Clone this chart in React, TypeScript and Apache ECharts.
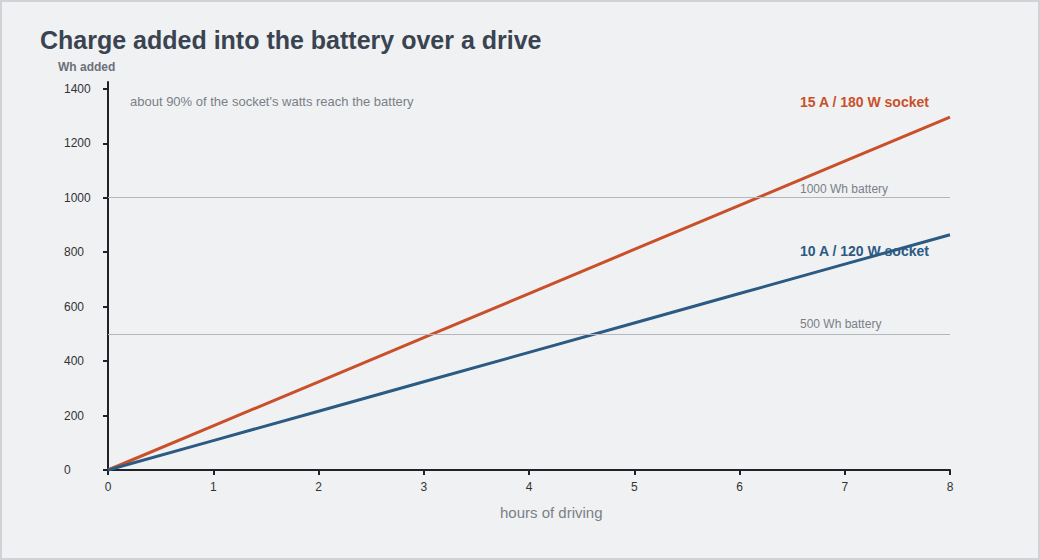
import React, { useEffect, useRef } from "react";
import * as echarts from "echarts";

const hours = [0, 1, 2, 3, 4, 5, 6, 7, 8];
const wh15A = [0, 162, 324, 486, 648, 810, 972, 1134, 1296];
const wh10A = [0, 108, 216, 324, 432, 540, 648, 756, 864];
const batteryLines = [500, 1000];
const batteryLabels = ["500 Wh battery", "1000 Wh battery"];
const FONT = "'Liberation Sans', Arial, sans-serif";

export default function App() {
  const ref = useRef<HTMLDivElement>(null);
  useEffect(() => {
    if (!ref.current) return;
    const chart = echarts.init(ref.current, undefined, { renderer: "svg" });
    const axisLine = { show: true, lineStyle: { color: "#1f2328", width: 2 } };
    const axisTick = { show: true, length: 5, lineStyle: { color: "#1f2328", width: 2 } };
    chart.setOption({
      animation: false,
      backgroundColor: "transparent",
      textStyle: { fontFamily: FONT },
      grid: { left: 108, right: 90, top: 82, bottom: 90, containLabel: false },
      xAxis: {
        type: "value",
        min: 0,
        max: 8,
        interval: 1,
        axisLine,
        axisTick,
        splitLine: { show: false },
        axisLabel: { color: "#333", fontSize: 12, margin: 11, fontFamily: FONT },
      },
      yAxis: {
        type: "value",
        min: 0,
        max: 1425,
        interval: 200,
        axisLine,
        axisTick,
        splitLine: { show: false },
        axisLabel: {
          color: "#333",
          fontSize: 12,
          margin: 44,
          align: "left",
          fontFamily: FONT,
          showMaxLabel: false,
          formatter: (v: number) => String(v),
        },
      },
      series: [
        {
          type: "line",
          data: hours.map((h, i) => [h, wh15A[i]]),
          showSymbol: false,
          lineStyle: { color: "#c9502a", width: 3 },
          z: 3,
          markLine: {
            silent: true,
            symbol: "none",
            label: { show: false },
            lineStyle: { color: "#b3b6bb", width: 1, type: "solid" },
            data: batteryLines.map((v) => ({ yAxis: v })),
          },
        },
        {
          type: "line",
          data: hours.map((h, i) => [h, wh10A[i]]),
          showSymbol: false,
          lineStyle: { color: "#2b5a83", width: 3 },
          z: 3,
        },
      ],
      graphic: [
        {
          type: "text",
          left: 40,
          top: 27,
          style: {
            text: "Charge added into the battery over a drive",
            fontSize: 25,
            fontWeight: "bold",
            fill: "#3a4450",
            fontFamily: FONT,
          },
        },
        {
          type: "text",
          left: 58,
          top: 61,
          style: {
            text: "Wh added",
            fontSize: 12,
            fontWeight: "bold",
            fill: "#6b7079",
            fontFamily: FONT,
          },
        },
        {
          type: "text",
          left: 130,
          top: 95,
          style: {
            text: "about 90% of the socket's watts reach the battery",
            fontSize: 13,
            fill: "#7a7f87",
            fontFamily: FONT,
          },
        },
        {
          type: "text",
          left: 800,
          top: 95,
          style: {
            text: "15 A / 180 W socket",
            fontSize: 14,
            fontWeight: "bold",
            fill: "#c9502a",
            fontFamily: FONT,
          },
        },
        {
          type: "text",
          left: 800,
          top: 244,
          style: {
            text: "10 A / 120 W socket",
            fontSize: 14,
            fontWeight: "bold",
            fill: "#2b5a83",
            fontFamily: FONT,
          },
        },
        {
          type: "text",
          left: 800,
          top: 183,
          style: { text: batteryLabels[1], fontSize: 12, fill: "#7a7f87", fontFamily: FONT },
        },
        {
          type: "text",
          left: 800,
          top: 318,
          style: { text: batteryLabels[0], fontSize: 12, fill: "#7a7f87", fontFamily: FONT },
        },
        {
          type: "text",
          left: 500,
          top: 505,
          style: { text: "hours of driving", fontSize: 15, fill: "#7a7f87", fontFamily: FONT },
        },
      ],
    });
    return () => chart.dispose();
  }, []);
  return (
    <div
      style={{
        position: "fixed",
        left: 0,
        top: 0,
        width: 1040,
        height: 560,
        boxSizing: "border-box",
        border: "2px solid #cfd2d7",
        background: "#f0f1f3",
      }}
    >
      <div ref={ref} style={{ position: "absolute", left: -2, top: -2, width: 1040, height: 560 }} />
    </div>
  );
}
